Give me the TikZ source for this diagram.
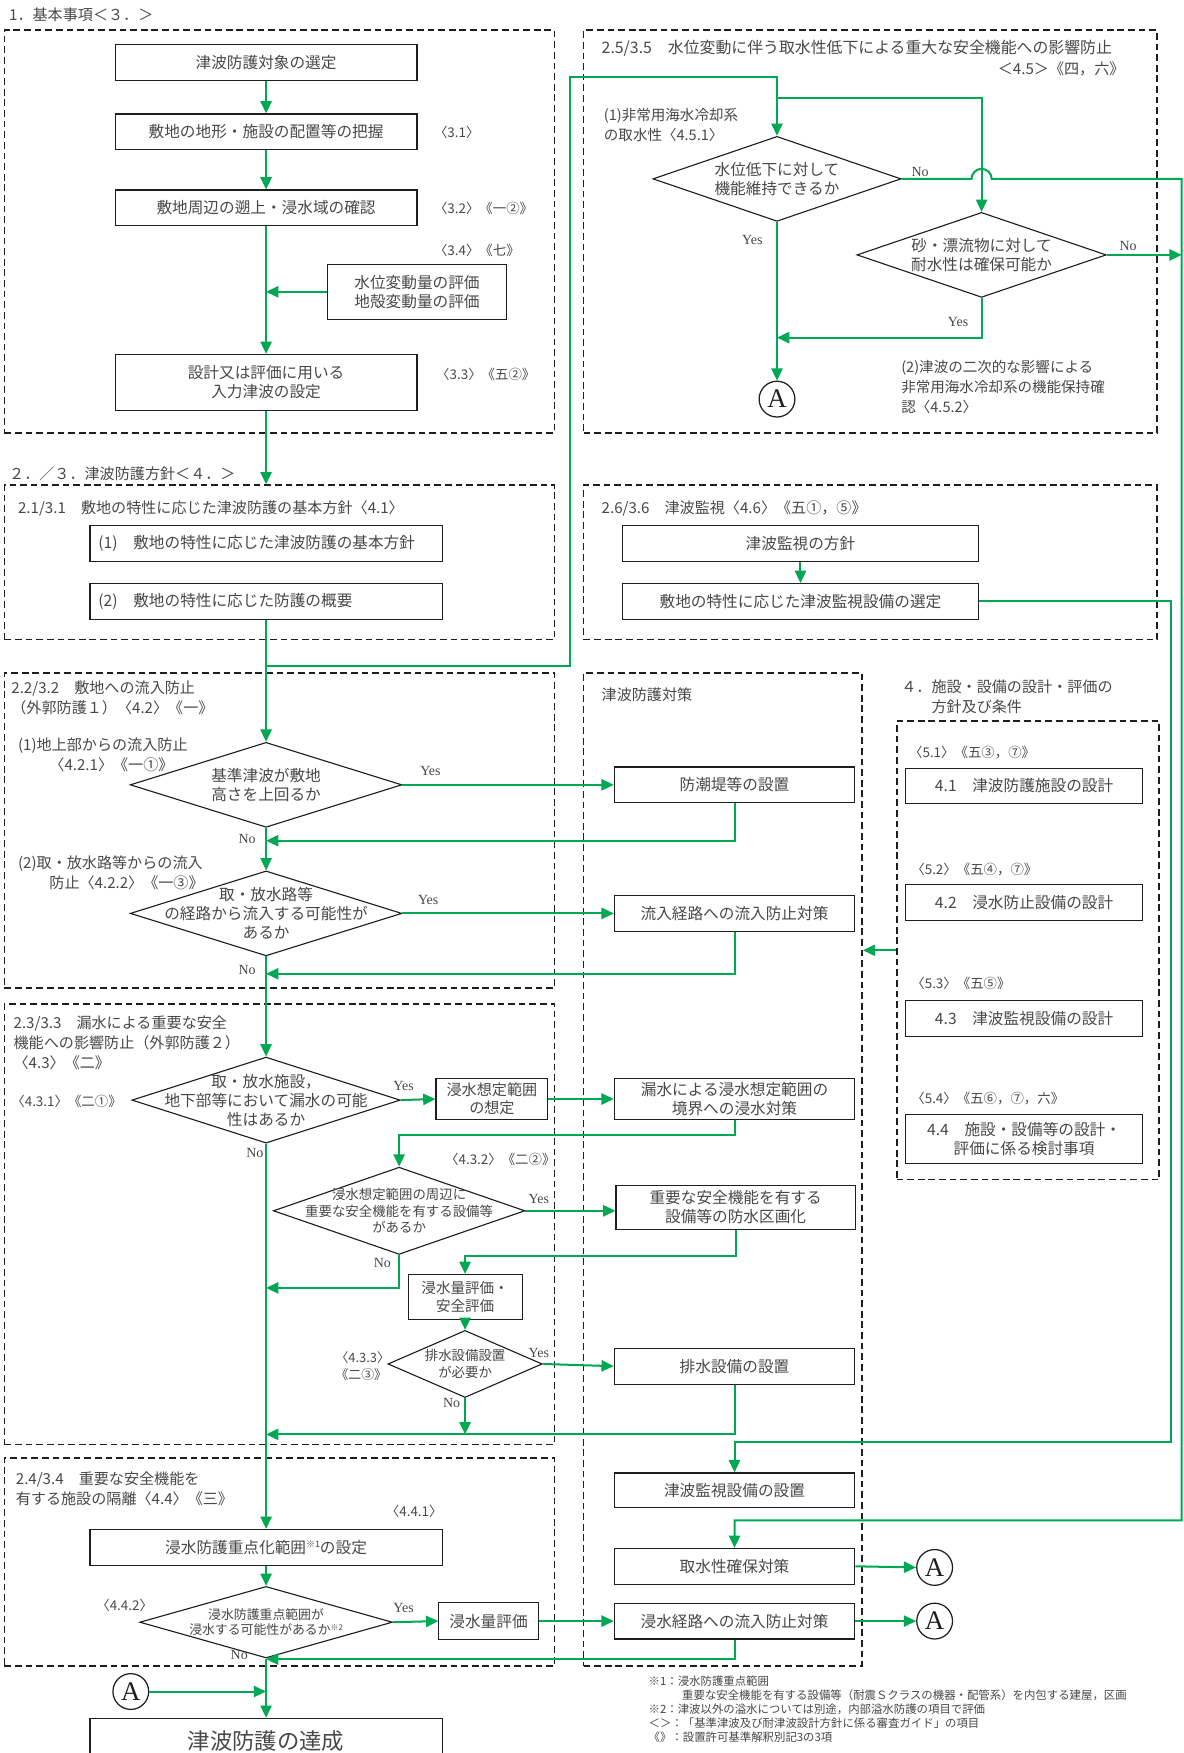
\documentclass[tikz,border=0pt]{standalone}
\usepackage{fontspec}
\setmainfont{Noto Sans CJK JP}
\newfontfamily\latin{Liberation Serif}
\usetikzlibrary{shapes.geometric,arrows.meta}
\definecolor{flowgreen}{RGB}{0,168,84}
\definecolor{ink}{RGB}{72,72,72}
\definecolor{edge}{RGB}{30,30,30}

\begin{document}
\begin{tikzpicture}[x=1pt,y=-1pt,
  frame/.style={draw=edge, line width=1.6pt, dash pattern=on 6pt off 3.5pt, inner sep=0pt},
  box/.style={draw=edge, line width=1pt, fill=white, minimum height=32pt, inner sep=1pt,
    align=center, text=ink, font=\fontsize{14}{17}\selectfont},
  dia/.style={diamond, draw=edge, line width=1pt, fill=white, inner sep=0pt},
  dtext/.style={align=center, text=ink, inner sep=0pt, font=\fontsize{14}{17}\selectfont},
  tag/.style={text=ink, inner sep=0pt, align=left, font=\fontsize{12}{15}\selectfont},
  ttl/.style={text=ink, inner sep=0pt, align=left, font=\fontsize{13.5}{18}\selectfont},
  yn/.style={text=ink, inner sep=0pt, font=\latin\fontsize{12.5}{14}\selectfont},
  conn/.style={circle, draw=edge, line width=1.1pt, fill=white, minimum size=32pt, inner sep=0pt,
    text=edge, font=\latin\fontsize{24}{24}\selectfont},
  flow/.style={draw=flowgreen, line width=1.8pt},
  arr/.style={flow, -{Triangle[length=11pt,width=10pt]}},
  foot/.style={text=ink, inner sep=0pt, align=left, font=\fontsize{10.2}{12.4}\selectfont}
]
\useasboundingbox (0,0) rectangle (1059,1568);
\clip (0,0) rectangle (1059,1568);
\fill[white] (0,0) rectangle (1059,1568);

% ---------- dashed group frames ----------
\node[frame, minimum width=492, minimum height=360] (g1)  at (250,207) {};
\node[frame, minimum width=513, minimum height=360] (g25) at (778.5,207) {};
\node[frame, minimum width=492, minimum height=138] (g21) at (250,503) {};
\node[frame, minimum width=513, minimum height=138] (g26) at (778.5,503) {};
\node[frame, minimum width=492, minimum height=282] (g22) at (250,743) {};
\node[frame, minimum width=249, minimum height=888] (gt)  at (646.5,1046) {};
\node[frame, minimum width=235, minimum height=410] (g4)  at (919.5,850) {};
\node[frame, minimum width=492, minimum height=394] (g23) at (250,1095) {};
\node[frame, minimum width=492, minimum height=186] (g24) at (250,1397) {};

% ---------- 1. basic items ----------
\node[ttl, anchor=west] (h1) at (8,13) {1．基本事項＜３．＞};
\node[box, minimum width=270] (n1) at (238,56) {津波防護対象の選定};
\node[box, minimum width=270] (n2) at (238,118) {敷地の地形・施設の配置等の把握};
\node[box, minimum width=270] (n3) at (238,186) {敷地周辺の遡上・浸水域の確認};
\node[box, minimum width=160, minimum height=49] (n4) at (373,261) {水位変動量の評価\\地殻変動量の評価};
\node[box, minimum width=270, minimum height=50] (n5) at (238,342) {設計又は評価に用いる\\入力津波の設定};
\node[tag, anchor=west] (t31) at (388,118) {〈3.1〉};
\node[tag, anchor=west] (t32) at (388,186) {〈3.2〉《一②》};
\node[tag, anchor=west] (t34) at (388,224) {〈3.4〉《七》};
\node[tag, anchor=west] (t33) at (390,335) {〈3.3〉《五②》};

\draw[arr] (n1.south) -- (n2.north);
\draw[arr] (n2.south) -- (n3.north);
\draw[arr] (n3.south) -- (n5.north);
\coordinate (m0) at (n3.south |- n4.west);
\draw[arr] (n4.west) -- (m0);
\draw[arr] (n5.south) -- (n5.south |- g21.north);

% ---------- 2./3. policy ----------
\node[ttl, anchor=west] (h2) at (8,424) {２．／３．津波防護方針＜４．＞};
\node[ttl, anchor=west] (t21) at (16,455) {2.1/3.1　敷地の特性に応じた津波防護の基本方針〈4.1〉};
\node[box, text width=300, inner xsep=7.5pt, align=left] (b211) at (238,486) {(1)　敷地の特性に応じた津波防護の基本方針};
\node[box, text width=300, inner xsep=7.5pt, align=left] (b212) at (238,538) {(2)　敷地の特性に応じた防護の概要};

% ---------- 2.5/3.5 intake ----------
\node[ttl, anchor=west, font=\fontsize{14.2}{18}\selectfont] (t25) at (538,43) {2.5/3.5　水位変動に伴う取水性低下による重大な安全機能への影響防止};
\node[ttl, anchor=east] (t25b) at (1006,62) {＜4.5＞《四，六》};
\node[tag, anchor=west, font=\fontsize{13}{18}\selectfont] (c251) at (540,112) {(1)非常用海水冷却系\\の取水性〈4.5.1〉};
\node[dia, minimum width=222, minimum height=76] (d1) at (695,160) {};
\node[dtext] (d1t) at (d1) {水位低下に対して\\機能維持できるか};
\node[dia, minimum width=223, minimum height=76] (d2) at (878,228) {};
\node[dtext] (d2t) at (d2) {砂・漂流物に対して\\耐水性は確保可能か};
\node[conn] (a1) at (695,357) {A};
\node[tag, anchor=west, font=\fontsize{13}{18}\selectfont] (c252) at (806,346) {(2)津波の二次的な影響による\\非常用海水冷却系の機能保持確\\認〈4.5.2〉};
\node[yn] (y1n) at (823,154) {No};
\node[yn] (y2n) at (1009,220) {No};
\node[yn] (y1y) at (673,215) {Yes};
\node[yn] (y2y) at (857,288) {Yes};

% ---------- 2.6/3.6 monitoring ----------
\node[ttl, anchor=west] (t26) at (538,455) {2.6/3.6　津波監視〈4.6〉《五①，⑤》};
\node[box, minimum width=318] (b261) at (716,486) {津波監視の方針};
\node[box, minimum width=318] (b262) at (716,538) {敷地の特性に応じた津波監視設備の選定};
\draw[arr] (b261.south) -- (b262.north);

% ---------- 2.2/3.2 inflow prevention ----------
\node[ttl, anchor=west] (t22) at (10,624) {2.2/3.2　敷地への流入防止\\（外郭防護１）〈4.2〉《一》};
\node[ttl, anchor=west] (c221) at (16,675) {(1)地上部からの流入防止\\\hspace*{28pt}〈4.2.1〉《一①》};
\node[dia, minimum width=243, minimum height=76] (d3) at (238,702) {};
\node[dtext] (d3t) at (d3) {基準津波が敷地\\高さを上回るか};
\node[ttl, anchor=west] (c222) at (16,781) {(2)取・放水路等からの流入\\\hspace*{28pt}防止〈4.2.2〉《一③》};
\node[dia, minimum width=243, minimum height=76] (d4) at (238,817) {};
\node[dtext] (d4t) at (d4) {取・放水路等\\の経路から流入する可能性が\\あるか};
\node[yn] (y3y) at (385,690) {Yes};
\node[yn] (y3n) at (221,750) {No};
\node[yn] (y4y) at (383,805) {Yes};
\node[yn] (y4n) at (221,868) {No};

% ---------- tsunami countermeasures column ----------
\node[ttl, anchor=west] (tt) at (538,621) {津波防護対策};
\node[box, minimum width=215] (bp1) at (657,702) {防潮堤等の設置};
\node[box, minimum width=215] (bp2) at (657,817) {流入経路への流入防止対策};
\node[box, minimum width=215, minimum height=37] (bp3) at (657,983) {漏水による浸水想定範囲の\\境界への浸水対策};
\node[box, minimum width=214, minimum height=40] (bp4) at (658,1080) {重要な安全機能を有する\\設備等の防水区画化};
\node[box, minimum width=215] (bp5) at (657,1222) {排水設備の設置};
\node[box, minimum width=215, minimum height=31] (bm) at (657,1333) {津波監視設備の設置};
\node[box, minimum width=215] (bk) at (657,1401) {取水性確保対策};
\node[box, minimum width=215] (bp8) at (657,1450) {浸水経路への流入防止対策};
\node[conn] (a2) at (836,1402) {A};
\node[conn] (a3) at (836,1450) {A};

% ---------- 4. design policy ----------
\node[ttl, anchor=west] (h4) at (806,623) {４．施設・設備の設計・評価の\\\hspace*{27pt}方針及び条件};
\node[tag, anchor=west] (t51) at (813,673) {〈5.1〉《五③，⑦》};
\node[box, minimum width=212] (b41) at (916,703) {4.1　津波防護施設の設計};
\node[tag, anchor=west] (t52) at (815,778) {〈5.2〉《五④，⑦》};
\node[box, minimum width=212] (b42) at (916,807) {4.2　浸水防止設備の設計};
\node[tag, anchor=west] (t53) at (815,880) {〈5.3〉《五⑤》};
\node[box, minimum width=212] (b43) at (916,911) {4.3　津波監視設備の設計};
\node[tag, anchor=west] (t54) at (815,983) {〈5.4〉《五⑥，⑦，六》};
\node[box, minimum width=212, minimum height=44] (b44) at (916,1019) {4.4　施設・設備等の設計・\\評価に係る検討事項};
\draw[arr] (g4.west) -- (gt.east |- g4.west);

% ---------- 2.3/3.3 leakage ----------
\node[ttl, anchor=west] (t23) at (12,933) {2.3/3.3　漏水による重要な安全\\機能への影響防止（外郭防護２）\\〈4.3〉《二》};
\node[tag, anchor=west] (t431) at (10,985) {〈4.3.1〉《二①》};
\node[dia, minimum width=240, minimum height=77] (d5) at (238,984) {};
\node[dtext] (d5t) at (d5) {取・放水施設，\\地下部等において漏水の可能\\性はあるか};
\node[box, minimum width=100, minimum height=37, font=\fontsize{13.5}{16}\selectfont] (b51) at (440,983) {浸水想定範囲\\の想定};
\node[yn] (y5y) at (361,971) {Yes};
\node[yn] (y5n) at (228,1031) {No};
\node[tag, anchor=west] (t432) at (398,1037) {〈4.3.2〉《二②》};
\node[dia, minimum width=225, minimum height=78] (d6) at (357,1083) {};
\node[dtext, font=\fontsize{12}{15}\selectfont] (d6t) at (d6) {浸水想定範囲の周辺に\\重要な安全機能を有する設備等\\があるか};
\node[yn] (y6y) at (482,1072) {Yes};
\node[yn] (y6n) at (342,1130) {No};
\node[box, minimum width=102, minimum height=40, font=\fontsize{13}{16}\selectfont] (b61) at (416,1160) {浸水量評価・\\安全評価};
\node[tag, anchor=west, font=\fontsize{11.5}{15}\selectfont] (t433) at (300,1222) {〈4.3.3〉\\《二③》};
\node[dia, minimum width=138, minimum height=60] (d7) at (416,1220) {};
\node[dtext, font=\fontsize{12}{15}\selectfont] (d7t) at (d7) {排水設備設置\\が必要か};
\node[yn] (y7y) at (482,1210) {Yes};
\node[yn] (y7n) at (404,1255) {No};

% ---------- 2.4/3.4 isolation ----------
\node[ttl, anchor=west] (t24) at (14,1332) {2.4/3.4　重要な安全機能を\\有する施設の隔離〈4.4〉《三》};
\node[tag, anchor=west] (t441) at (345,1352) {〈4.4.1〉};
\node[box, minimum width=315] (b71) at (238,1384) {浸水防護重点化範囲\raisebox{5pt}{\fontsize{8}{8}\selectfont ※1}の設定};
\node[tag, anchor=west] (t442) at (86,1436) {〈4.4.2〉};
\node[dia, minimum width=226, minimum height=64] (d8) at (238,1451) {};
\node[dtext, font=\fontsize{11.5}{14}\selectfont] (d8t) at (d8) {浸水防護重点範囲が\\浸水する可能性があるか\raisebox{4pt}{\fontsize{7}{7}\selectfont ※2}};
\node[box, minimum width=89, minimum height=33] (b72) at (437,1450) {浸水量評価};
\node[yn] (y8y) at (361,1438) {Yes};
\node[yn] (y8n) at (214,1480) {No};
\node[conn] (a4) at (117,1513) {A};
\node[box, minimum width=315, minimum height=40, font=\fontsize{20}{24}\selectfont] (fin) at (238,1557) {津波防護の達成};

% ---------- footnotes ----------
\node[foot, anchor=north west] (fn) at (580,1499) {※1：浸水防護重点範囲\\\hspace*{30pt}重要な安全機能を有する設備等（耐震Ｓクラスの機器・配管系）を内包する建屋，区画\\※2：津波以外の溢水については別途，内部溢水防護の項目で評価\\＜＞：「基準津波及び耐津波設計方針に係る審査ガイド」の項目\\《》：設置許可基準解釈別記3の3項};

% ---------- connectors ----------
% main spine
\draw[arr] (b212.south) -- (d3.north);
\draw[arr] (d3.south) -- (d4.north);
\draw[arr] (d4.south) -- (d5.north);
\draw[arr] (d5.south) -- (b71.north);
\draw[arr] (b71.south) -- (d8.north);
\draw[arr] (d8.south) -- (fin.north);

% branch to the intake checks
\coordinate (j1) at (238,596);
\coordinate (j2) at (695,88);
\draw[arr] (j1) -- (510,596) -- (510,69) -| (d1.north);
\draw[arr] (j2) -| (d2.north);
\draw[arr] (d1.south) -- (a1.north);
\coordinate (m1) at (695,302);
\draw[arr] (d2.south) |- (m1);
\draw[arr] (d1.east) -- (869,160) arc[start angle=180, end angle=0, radius=9pt] -- (1057,160) -- (1057,1360) -| (bk.north);
\coordinate (r2) at (1057,228);
\draw[arr] (d2.east) -- (r2);

% monitoring
\draw[arr] (b262.east) -- (1047,538) -- (1047,1290) -| (bm.north);

% inflow prevention
\draw[arr] (d3.east) -- (bp1.west);
\coordinate (m2) at (238,752);
\draw[arr] (bp1.south) |- (m2);
\draw[arr] (d4.east) -- (bp2.west);
\coordinate (m3) at (238,871);
\draw[arr] (bp2.south) |- (m3);

% leakage
\draw[arr] (d5.east) -- (b51.west);
\draw[arr] (b51.east) -- (bp3.west);
\draw[arr] (bp3.south) -- (657,1015) -| (d6.north);
\draw[arr] (d6.east) -- (bp4.west |- d6.east);
\coordinate (m5) at (238,1152);
\draw[arr] (d6.south) |- (m5);
\draw[arr] (bp4.south) -- (658,1123) -| (b61.north);
\draw[arr] (b61.south) -- (d7.north);
\draw[arr] (d7.east) -- (bp5.west);
\coordinate (m6) at (416,1283);
\draw[arr] (d7.south) -- (m6);
\coordinate (m7) at (238,1283);
\draw[arr] (bp5.south) |- (m7);

% isolation
\draw[arr] (d8.east) -- (b72.west);
\draw[arr] (b72.east) -- (bp8.west);
\coordinate (m8) at (238,1484);
\draw[arr] (bp8.south) |- (m8);
\coordinate (m9) at (238,1513);
\draw[arr] (a4.east) -- (m9);
\draw[arr] (bk.east) -- (a2.west);
\draw[arr] (bp8.east) -- (a3.west);
\end{tikzpicture}
\end{document}
